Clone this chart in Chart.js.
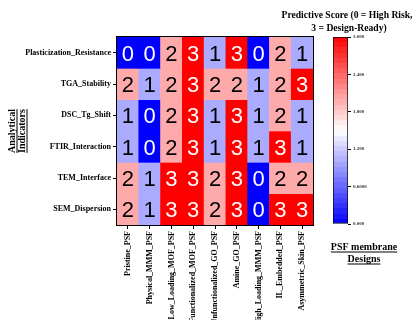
<!DOCTYPE html>
<html>
<head>
<meta charset="utf-8">
<script src="https://cdn.jsdelivr.net/npm/chart.js@4/dist/chart.umd.min.js"></script>
<style>
  html, body { margin: 0; padding: 0; background: #fff; }
  #wrap { position: relative; width: 413px; height: 320px; overflow: hidden; background: #fff; }
  #heat { position: absolute; left: 0; top: 0; }
  #bar { position: absolute; left: 330px; top: 0; }
</style>
</head>
<body>
<div id="wrap">
  <canvas id="heat" width="413" height="320"></canvas>
  <canvas id="bar" width="83" height="320"></canvas>
</div>
<script>
// Indicators (rows, top to bottom) and membrane designs (columns)
const indicators = ['Plasticization_Resistance', 'TGA_Stability', 'DSC_Tg_Shift',
                    'FTIR_Interaction', 'TEM_Interface', 'SEM_Dispersion'];
const designs = ['Pristine_PSF', 'Physical_MMM_PSF', 'Low_Loading_MOF_PSF',
                 'Functionalized_MOF_PSF', 'Unfunctionalized_GO_PSF', 'Amine_GO_PSF',
                 'High_Loading_MMM_PSF', 'IL_Embedded_PSF', 'Asymmetric_Skin_PSF'];

// Predictive scores per indicator (0 = high risk, 3 = design-ready)
const plasticizationScores = [0, 0, 2, 3, 1, 3, 0, 2, 1];
const tgaScores            = [2, 1, 2, 3, 2, 2, 1, 2, 3];
const dscScores            = [1, 0, 2, 3, 1, 3, 1, 2, 1];
const ftirScores           = [1, 0, 2, 3, 1, 3, 1, 3, 1];
const temScores            = [2, 1, 3, 3, 2, 3, 0, 2, 2];
const semScores            = [2, 1, 3, 3, 2, 3, 0, 3, 3];

// Colour bar ticks
const scoreMin = 0, scoreMax = 3;
const cbTickValues = [0, 0.6, 1.2, 1.8, 2.4, 3.0];
const cbTickLabels = ['0.000', '0.6000', '1.200', '1.800', '2.400', '3.000'];

const scoreRows = [plasticizationScores, tgaScores, dscScores, ftirScores, temScores, semScores];

// blue-white-red diverging map, t in [0,1]
function bwr(t) {
  t = Math.max(0, Math.min(1, t));
  let r, g, b;
  if (t < 0.5) { const f = t / 0.5; r = f; g = f; b = 1; }
  else { const f = (t - 0.5) / 0.5; r = 1; g = 1 - f; b = 1 - f; }
  return 'rgb(' + Math.round(r * 255) + ',' + Math.round(g * 255) + ',' + Math.round(b * 255) + ')';
}
const colorFor = v => bwr((v - scoreMin) / (scoreMax - scoreMin));

const serif = "'Liberation Serif', 'Times New Roman', serif";

const datasets = scoreRows.map((vals, r) => ({
  label: indicators[r],
  data: vals.map(() => [r, r + 1]),
  scores: vals,
  backgroundColor: vals.map(colorFor),
  borderWidth: 0,
  grouped: false,
  barPercentage: 1,
  categoryPercentage: 1
}));

// score numbers inside each cell
const cellText = {
  id: 'cellText',
  afterDatasetsDraw(chart) {
    const ctx = chart.ctx;
    ctx.save();
    ctx.font = "22px 'Liberation Sans', Arial, sans-serif";
    ctx.textAlign = 'center';
    ctx.textBaseline = 'alphabetic';
    chart.data.datasets.forEach((ds, di) => {
      chart.getDatasetMeta(di).data.forEach((el, i) => {
        const v = ds.scores[i];
        ctx.fillStyle = (v === 0 || v === 3) ? '#ffffff' : '#000000';
        ctx.fillText(String(v), el.x, (el.y + el.base) / 2 + 8);
      });
    });
    ctx.restore();
  }
};

function underlinedLines(ctx, lines, cx, cy, gap) {
  const n = lines.length;
  lines.forEach((t, i) => {
    const y = cy + (i - (n - 1) / 2) * gap;
    ctx.fillText(t, cx, y);
    const w = ctx.measureText(t).width;
    ctx.fillRect(cx - w / 2, y + 4.5, w, 1);
  });
}

// frame and titles
const decorations = {
  id: 'decorations',
  afterDraw(chart) {
    const ctx = chart.ctx;
    const a = chart.chartArea;
    ctx.save();
    ctx.strokeStyle = '#000';
    ctx.lineWidth = 1;
    ctx.strokeRect(Math.round(a.left) - 0.5, Math.round(a.top) - 0.5,
                   Math.round(a.right - a.left) + 1, Math.round(a.bottom - a.top) + 1);

    ctx.fillStyle = '#000';
    ctx.textAlign = 'center';
    ctx.textBaseline = 'middle';

    // y axis title
    ctx.font = 'bold 10px ' + serif;
    ctx.save();
    ctx.translate(17, (a.top + a.bottom) / 2);
    ctx.rotate(-Math.PI / 2);
    underlinedLines(ctx, ['Analytical', 'Indicators'], 0, 0, 10);
    ctx.restore();

    // x axis title
    underlinedLines(ctx, ['PSF membrane', 'Designs'], 364, 253, 12);

    // colour bar title
    ctx.font = 'bold 9.6px ' + serif;
    ctx.fillText('Predictive Score (0 = High Risk,', 347, 16);
    ctx.fillText('3 = Design-Ready)', 349, 29);
    ctx.restore();
  }
};

new Chart(document.getElementById('heat'), {
  type: 'bar',
  data: { labels: designs, datasets },
  options: {
    responsive: false,
    animation: false,
    layout: { padding: { left: 0, top: 37, right: 100, bottom: 0 } },
    plugins: { legend: { display: false }, tooltip: { enabled: false } },
    scales: {
      x: {
        type: 'category',
        offset: true,
        grid: { display: true, drawOnChartArea: false, offset: false, color: '#000', tickLength: 4 },
        border: { display: false },
        ticks: {
          autoSkip: false, minRotation: 90, maxRotation: 90, padding: 2,
          color: '#000', font: { family: serif, size: 8, weight: 'bold' }
        },
        afterFit(scale) { scale.height = 95; }
      },
      y: {
        type: 'linear',
        min: 0, max: indicators.length,
        reverse: true,
        afterBuildTicks(scale) {
          scale.ticks = indicators.map((_, i) => ({ value: i + 0.5 }));
        },
        grid: { display: true, drawOnChartArea: false, color: '#000', tickLength: 4 },
        border: { display: false },
        ticks: {
          padding: 2, color: '#000',
          font: { family: serif, size: 8, weight: 'bold' },
          callback: (v, i) => indicators[i]
        },
        afterFit(scale) { scale.width = 117; }
      }
    }
  },
  plugins: [cellText, decorations]
});

// colour bar
const nBands = 36;
function bandGradient(ctx, area) {
  const g = ctx.createLinearGradient(0, area.bottom, 0, area.top);
  for (let i = 0; i < nBands; i++) {
    const c = bwr((i + 0.5) / nBands);
    g.addColorStop(i / nBands, c);
    g.addColorStop((i + 1) / nBands - 0.0001, c);
  }
  return g;
}

new Chart(document.getElementById('bar'), {
  type: 'bar',
  data: {
    labels: [''],
    datasets: [{
      data: [[scoreMin, scoreMax]],
      backgroundColor: c => c.chart.chartArea ? bandGradient(c.chart.ctx, c.chart.chartArea) : '#fff',
      borderColor: '#000',
      borderWidth: 1,
      borderSkipped: false,
      barPercentage: 1,
      categoryPercentage: 1
    }]
  },
  options: {
    responsive: false,
    animation: false,
    layout: { padding: { left: 3, top: 37, right: 0, bottom: 96 } },
    plugins: { legend: { display: false }, tooltip: { enabled: false } },
    scales: {
      x: { display: false },
      y: {
        position: 'right',
        min: scoreMin, max: scoreMax,
        afterBuildTicks(scale) { scale.ticks = cbTickValues.map(v => ({ value: v })); },
        grid: { display: true, drawOnChartArea: false, color: '#000', tickLength: 3 },
        border: { display: false },
        ticks: {
          padding: 2, color: '#333',
          font: { family: serif, size: 5, weight: 'bold' },
          callback: (v, i) => cbTickLabels[i]
        },
        afterFit(scale) { scale.width = 65; }
      }
    }
  }
});
</script>
</body>
</html>
